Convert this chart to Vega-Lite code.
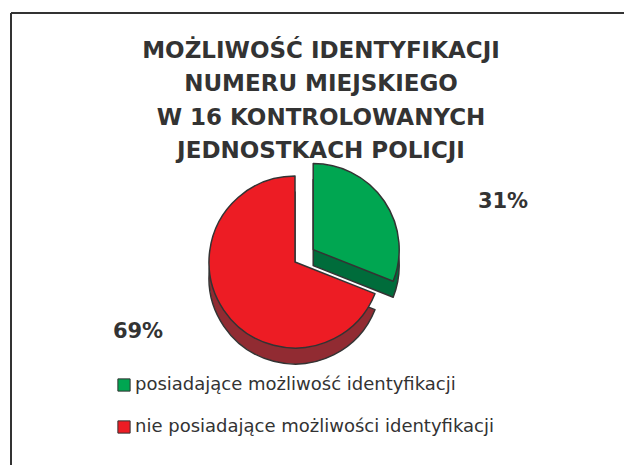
{
  "$schema": "https://vega.github.io/schema/vega-lite/v6.json",
  "autosize": "none",
  "width": 613,
  "height": 452,
  "padding": {"left": 11, "top": 13, "right": 0, "bottom": 0},
  "background": "white",
  "config": {"view": {"stroke": null}},
  "title": {
    "text": ["MOŻLIWOŚĆ IDENTYFIKACJI", "NUMERU MIEJSKIEGO", "W 16 KONTROLOWANYCH", "JEDNOSTKACH POLICJI"],
    "anchor": "middle",
    "frame": "group",
    "orient": "top",
    "baseline": "top",
    "offset": 0,
    "dx": 3.5,
    "dy": 151,
    "font": "DejaVu Sans",
    "fontSize": 23,
    "fontWeight": "bold",
    "color": "#333333",
    "lineHeight": 33.5
  },
  "data": {
    "values": [
      {"kategoria": "posiadające możliwość identyfikacji", "procent": 31, "etykieta": "31%"},
      {"kategoria": "nie posiadające możliwości identyfikacji", "procent": 69, "etykieta": "69%"}
    ]
  },
  "layer": [
    {
      "mark": {"type": "rule", "stroke": "#333333", "strokeWidth": 2},
      "encoding": {"x": {"value": 0}}
    },
    {
      "mark": {"type": "rule", "stroke": "#333333", "strokeWidth": 2},
      "encoding": {"y": {"value": 0}}
    },
    {
      "mark": {"type": "arc", "radius": 86, "fill": "#006C3B", "stroke": "#333333", "strokeWidth": 1.5, "strokeJoin": "round", "xOffset": -4.3, "yOffset": 26.6},
      "encoding": {
        "theta": {"field": "procent", "type": "quantitative", "stack": true},
        "order": {"field": "procent", "type": "quantitative"},
        "opacity": {"condition": {"test": "datum.procent == 31", "value": 1}, "value": 0}
      }
    },
    {
      "mark": {"type": "arc", "radius": 86, "stroke": "#333333", "strokeWidth": 1.5, "strokeJoin": "round", "xOffset": -4.3, "yOffset": 10.6},
      "encoding": {
        "theta": {"field": "procent", "type": "quantitative", "stack": true},
        "order": {"field": "procent", "type": "quantitative"},
        "color": {
          "field": "kategoria",
          "type": "nominal",
          "scale": {
            "domain": ["posiadające możliwość identyfikacji", "nie posiadające możliwości identyfikacji"],
            "range": ["#00A651", "#ED1C24"]
          },
          "legend": {
            "title": null,
            "orient": "none",
            "legendX": 104,
            "legendY": 363,
            "symbolType": "square",
            "symbolSize": 150,
            "symbolStrokeColor": "#333333",
            "symbolStrokeWidth": 1,
            "symbolOpacity": 1,
            "labelFont": "DejaVu Sans",
            "labelFontSize": 18,
            "labelColor": "#333333",
            "labelLimit": 600,
            "labelOffset": 2,
            "rowPadding": 24,
            "padding": 0
          }
        },
        "opacity": {"condition": {"test": "datum.procent == 31", "value": 1}, "value": 0}
      }
    },
    {
      "mark": {"type": "arc", "radius": 86, "fill": "#912B32", "stroke": "#333333", "strokeWidth": 1.5, "strokeJoin": "round", "xOffset": -22.5, "yOffset": 39},
      "encoding": {
        "theta": {"field": "procent", "type": "quantitative", "stack": true},
        "order": {"field": "procent", "type": "quantitative"},
        "opacity": {"condition": {"test": "datum.procent == 69", "value": 1}, "value": 0}
      }
    },
    {
      "mark": {"type": "arc", "radius": 86, "stroke": "#333333", "strokeWidth": 1.5, "strokeJoin": "round", "xOffset": -22.5, "yOffset": 23},
      "encoding": {
        "theta": {"field": "procent", "type": "quantitative", "stack": true},
        "order": {"field": "procent", "type": "quantitative"},
        "color": {"field": "kategoria", "type": "nominal"},
        "opacity": {"condition": {"test": "datum.procent == 69", "value": 1}, "value": 0}
      }
    },
    {
      "transform": [{"filter": "datum.procent == 31"}],
      "mark": {"type": "text", "dx": 185.5, "dy": -31, "align": "center", "baseline": "alphabetic", "font": "DejaVu Sans", "fontSize": 21, "fontWeight": "bold", "fill": "#333333"},
      "encoding": {"text": {"field": "etykieta", "type": "nominal"}}
    },
    {
      "transform": [{"filter": "datum.procent == 69"}],
      "mark": {"type": "text", "dx": -179.5, "dy": 99, "align": "center", "baseline": "alphabetic", "font": "DejaVu Sans", "fontSize": 21, "fontWeight": "bold", "fill": "#333333"},
      "encoding": {"text": {"field": "etykieta", "type": "nominal"}}
    }
  ]
}
